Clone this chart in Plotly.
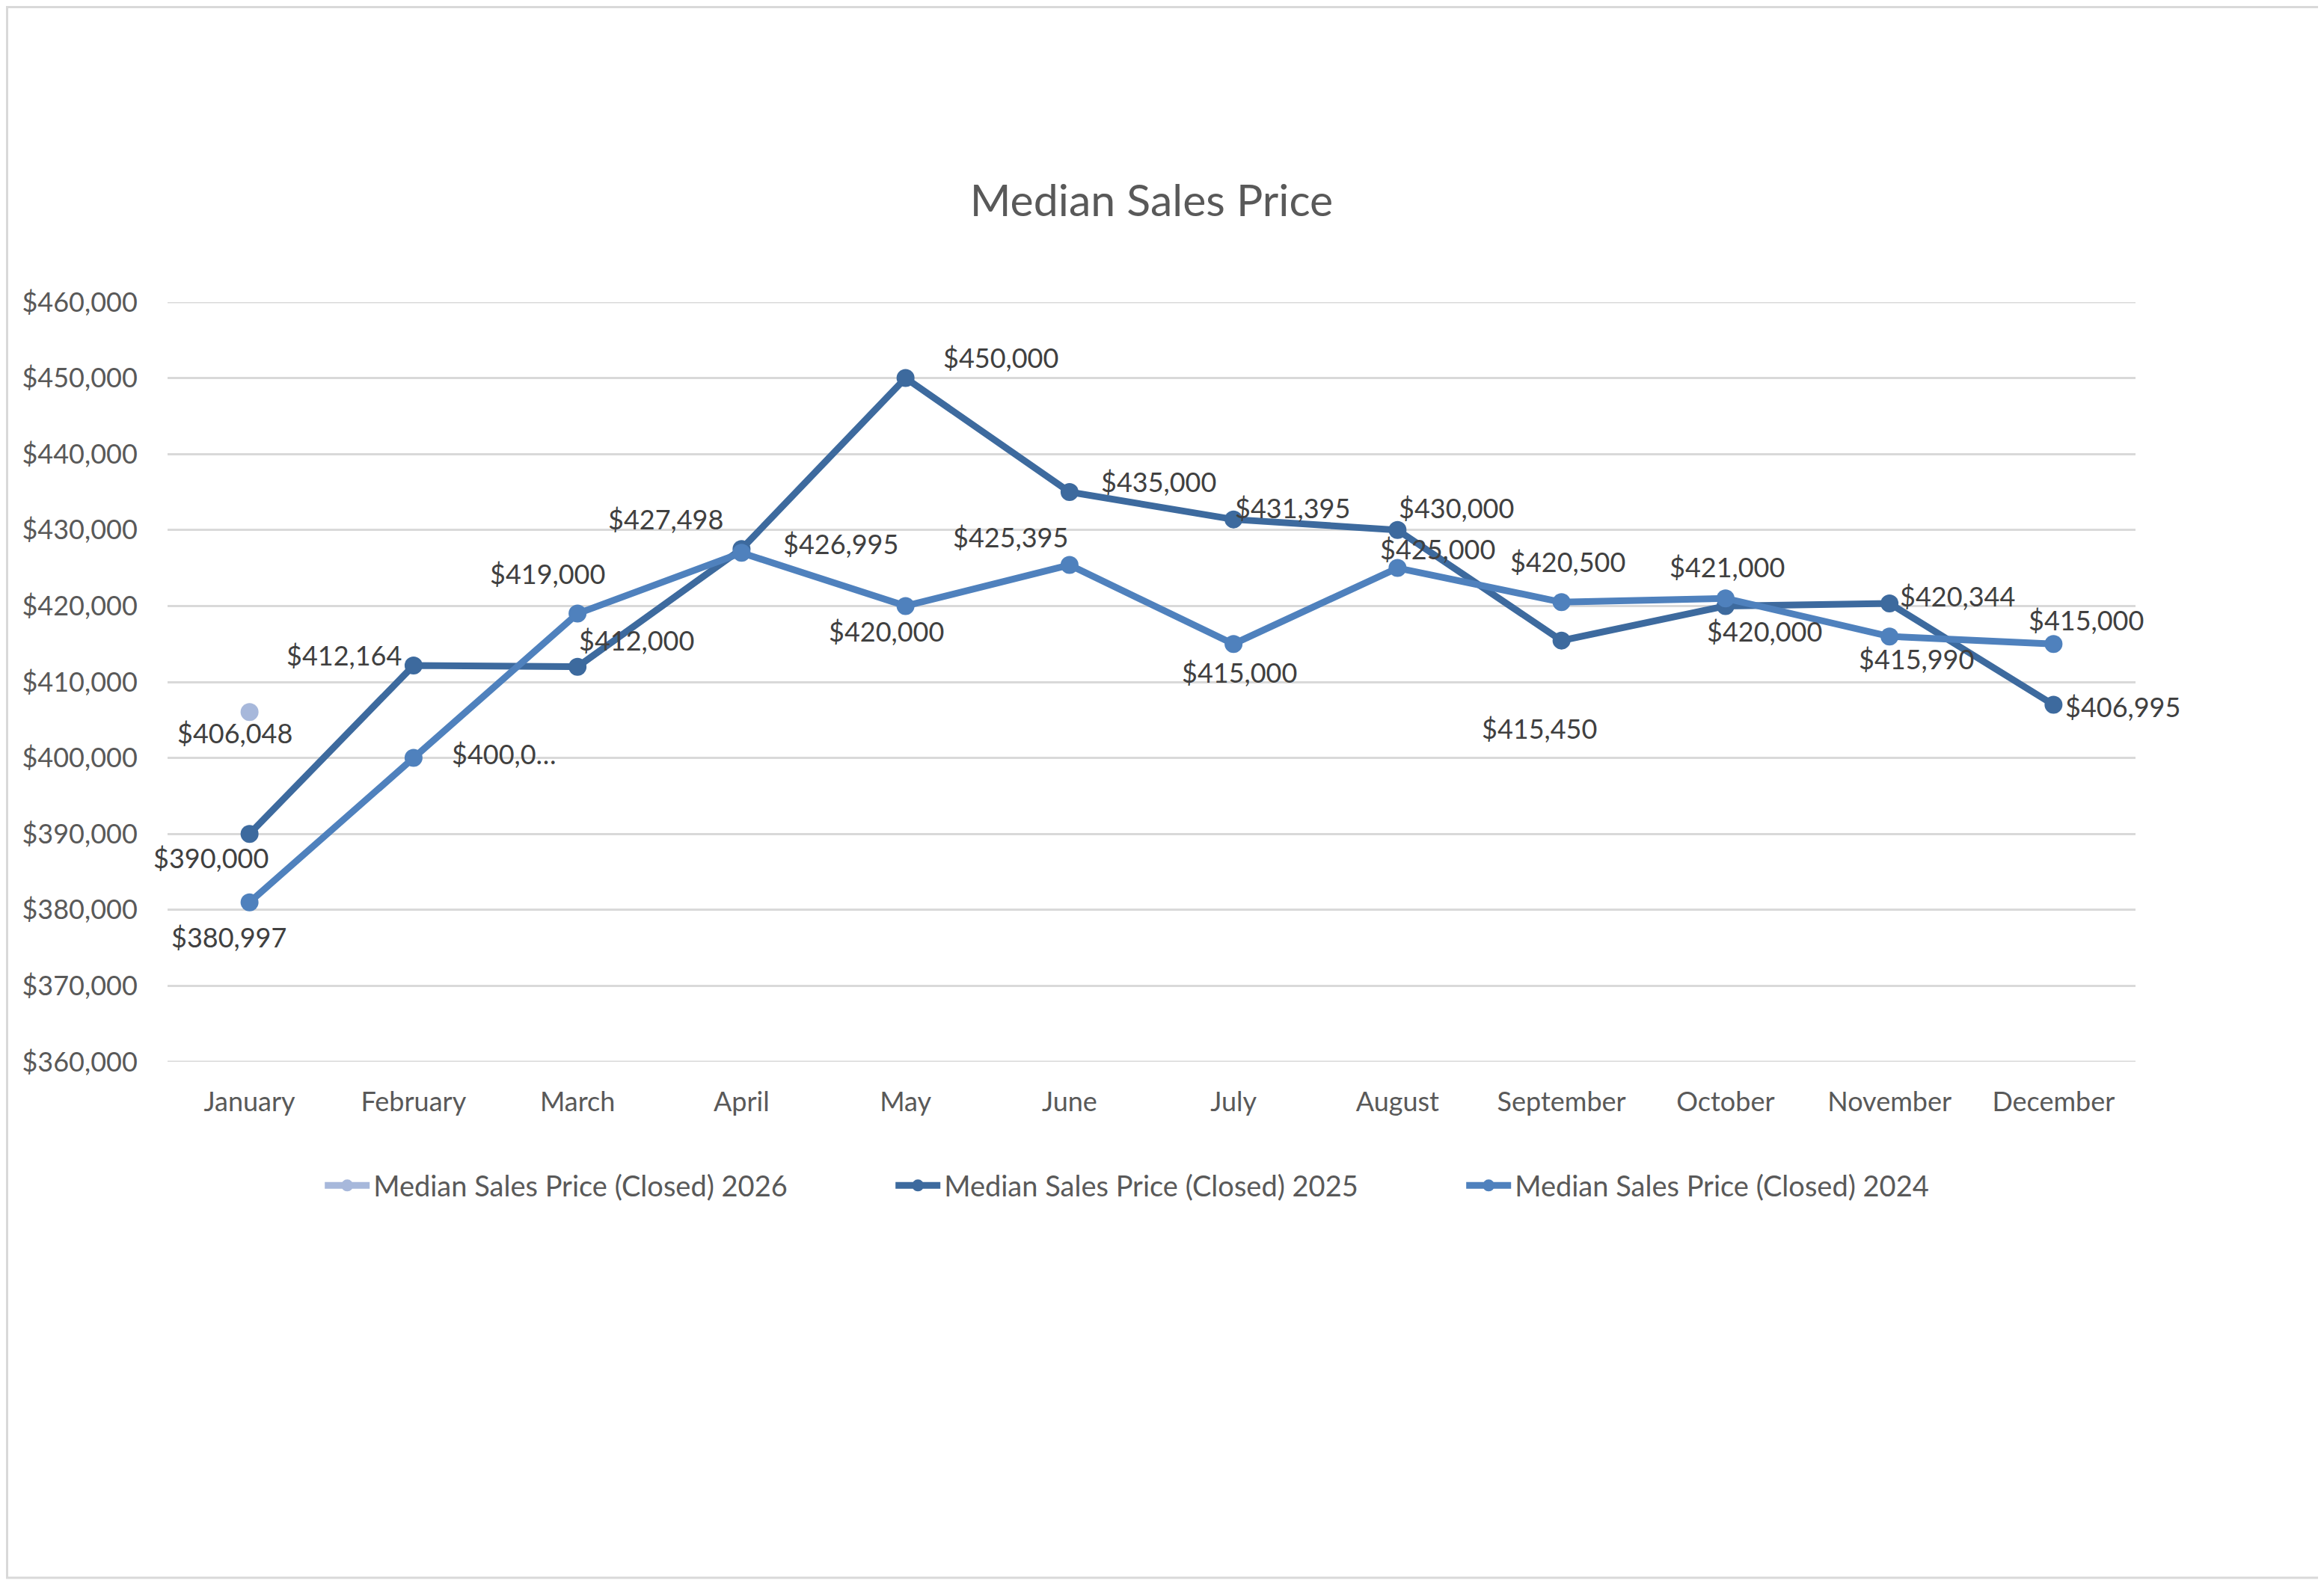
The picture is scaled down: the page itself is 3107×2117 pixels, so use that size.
import plotly.graph_objects as go

months = ["January", "February", "March", "April", "May", "June", "July",
          "August", "September", "October", "November", "December"]

price_2026 = [406048]
price_2025 = [390000, 412164, 412000, 427498, 450000, 435000, 431395,
              430000, 415450, 420000, 420344, 406995]
price_2024 = [380997, 400000, 419000, 426995, 420000, 425395, 415000,
              425000, 420500, 421000, 415990, 415000]

y_ticks = [360000, 370000, 380000, 390000, 400000, 410000, 420000,
           430000, 440000, 450000, 460000]

series_names = ["Median Sales Price (Closed) 2026",
                "Median Sales Price (Closed) 2025",
                "Median Sales Price (Closed) 2024"]

# label offsets (pixels) for the data labels
off_2026 = [(-20, -28)]
off_2025 = [(-52, -32), (-93, 14), (79, 36), (-101, 40), (127, 28), (119, 14),
            (79, 16), (79, 30), (-30, -117), (52, -34), (91, 10), (93, -2)]
off_2024 = [(-28, -46), (121, 6), (-40, 54), (133, 12), (-26, -34), (-79, 38),
            (8, -38), (54, 26), (8, 54), (2, 42), (36, -30), (44, 32)]

colors = ["#A7B8DB", "#3D6A9E", "#4F81BD"]

FONT = "Lato"
TXT = "#404040"
AX = "#595959"
GRID = "#D9D9D9"

fig = go.Figure()
for name, vals, col in [(series_names[0], price_2026, colors[0]),
                        (series_names[1], price_2025, colors[1]),
                        (series_names[2], price_2024, colors[2])]:
    fig.add_trace(go.Scatter(
        x=months[:len(vals)], y=vals, name=name, mode="lines+markers",
        line=dict(color=col, width=9), marker=dict(color=col, size=24),
        cliponaxis=False,
    ))


def fmt(v):
    return "${:,.0f}".format(v)


def add_labels(vals, offs, override=None):
    for i, (v, (dx, dy)) in enumerate(zip(vals, offs)):
        txt = fmt(v)
        if override and i in override:
            txt = override[i]
        fig.add_annotation(x=months[i], y=v, text=txt, showarrow=False,
                           xshift=dx, yshift=dy,
                           font=dict(family=FONT, size=36, color=TXT))


add_labels(price_2026, off_2026)
add_labels(price_2025, off_2025)
add_labels(price_2024, off_2024, override={1: "$400,0…"})

# page offset (browser body margin)
OFF = 8
W, H = 3107 - OFF, 2117 - OFF
L, T = 224 - OFF, 404 - OFF
R = W - (2855 - OFF)
B = H - (1420 - OFF)
pw, ph = W - L - R, H - T - B

# chart border
fig.add_shape(type="rect", xref="paper", yref="paper",
              x0=(1.5 - L) / pw, x1=(3095 - L) / pw,
              y0=(H - B - 2102) / ph, y1=(H - B - 1.5) / ph,
              line=dict(color=GRID, width=3), fillcolor="rgba(0,0,0,0)",
              layer="below")

# edge gridlines (top / bottom of value range)
for v in (y_ticks[0], y_ticks[-1]):
    fig.add_shape(type="line", xref="paper", yref="y", x0=0, x1=1, y0=v, y1=v,
                  line=dict(color=GRID, width=3), layer="below")

fig.update_layout(
    width=W, height=H,
    margin=dict(l=L, r=R, t=T, b=B),
    paper_bgcolor="white", plot_bgcolor="white",
    title=dict(text="Median Sales Price", x=0.5, xref="paper",
               y=1 - (268 - OFF) / H, yref="container", yanchor="middle",
               font=dict(family=FONT, size=59, color=AX)),
    font=dict(family=FONT, size=36, color=AX),
    legend=dict(orientation="h", x=0.513, xanchor="center", y=-0.163,
                yanchor="middle", font=dict(family=FONT, size=38, color=AX),
                itemwidth=60, traceorder="normal",
                entrywidth=688, entrywidthmode="pixels"),
    showlegend=True,
)
fig.update_xaxes(type="category", range=[-0.5, 11.5], showgrid=False,
                 showline=False, zeroline=False, ticks="outside", ticklen=22,
                 tickcolor="rgba(0,0,0,0)",
                 tickfont=dict(family=FONT, size=36, color=AX))
fig.update_yaxes(range=[360000, 460000], tickvals=y_ticks,
                 ticktext=[fmt(v) for v in y_ticks],
                 showgrid=True, gridcolor=GRID, gridwidth=3,
                 zeroline=False, showline=False, ticks="outside", ticklen=32,
                 tickcolor="rgba(0,0,0,0)",
                 tickfont=dict(family=FONT, size=36, color=AX))

fig.write_html("out.html")
